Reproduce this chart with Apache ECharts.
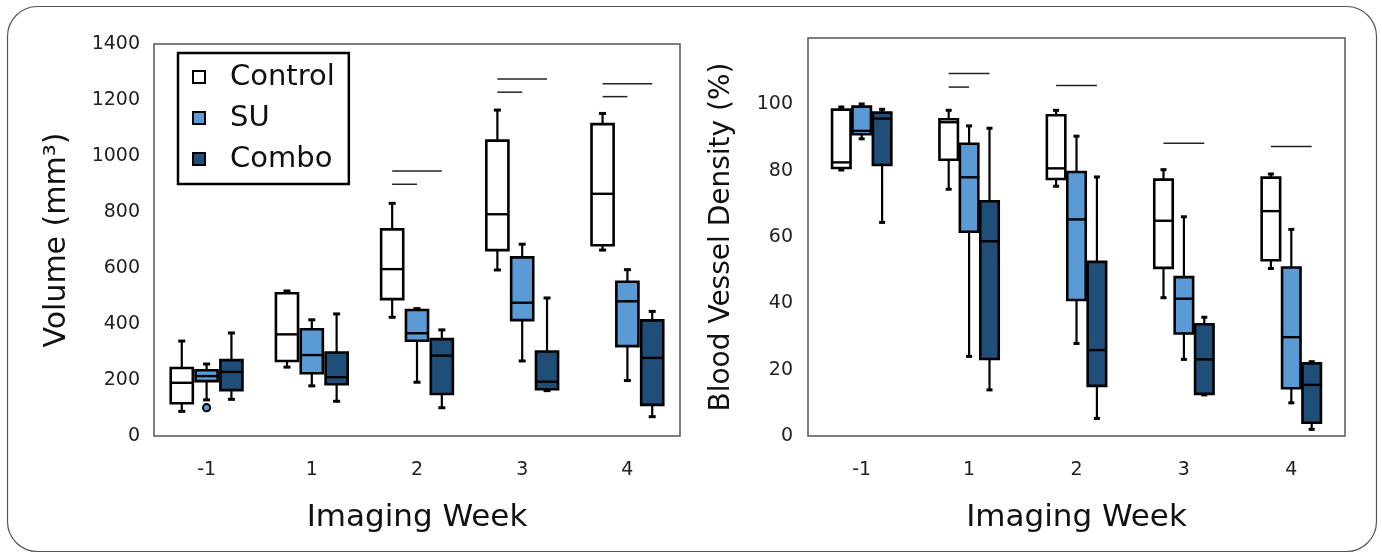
<!DOCTYPE html>
<html><head><meta charset="utf-8">
<script src="https://cdn.jsdelivr.net/npm/echarts@6/dist/echarts.min.js"></script>
<style>html,body{margin:0;padding:0;background:#fff}#c{width:1382px;height:555px}</style>
</head><body><div id="c"></div>
<script>
// ---- categories ----
const weeks = ['-1', '1', '2', '3', '4'];
const groupNames = ['Control', 'SU', 'Combo'];

// ---- Volume (mm³): [min, Q1, median, Q3, max] per week ----
const volControl = [[88,117,190,243,339],[246,268,363,510,518],[424,489,596,738,831],[593,664,792,1055,1164],[664,681,865,1114,1152]];
const volSU      = [[129,196,214,235,257],[179,224,289,381,415],[192,340,367,450,455],[268,414,476,638,685],[198,321,481,551,594]];
const volCombo   = [[131,164,229,271,368],[124,185,210,298,436],[101,150,287,346,379],[162,167,194,302,493],[69,111,279,413,445]];
// outliers: [weekIndex, value]
const volSUOutliers = [[0, 101]];
// significance bars: [weekIndex, fromGroup, toGroup, value]
const volSig = [[2,0,2,946],[2,0,1,899],[3,0,2,1275],[3,0,1,1228],[4,0,2,1258],[4,0,1,1212]];

// ---- Blood Vessel Density (%): [min, Q1, median, Q3, max] per week ----
const bvdControl = [[80.2,80.8,82.5,98.4,99.2],[74.4,83.3,94.6,95.5,98.2],[75.3,77.5,80.7,96.7,98.2],[41.7,50.7,64.9,77.3,80.3],[50.5,53.0,67.8,77.9,79.0]];
const bvdSU      = [[89.6,91.0,92.0,99.3,100.1],[24.0,61.6,78.0,88.1,93.5],[27.9,41.0,65.3,79.6,90.4],[23.1,30.9,41.4,47.9,66.1],[10.0,14.4,29.8,50.8,62.3]];
const bvdCombo   = [[64.4,81.7,95.7,97.5,98.5],[13.9,23.2,58.7,70.8,92.8],[5.3,15.1,25.9,52.5,78.1],[12.4,12.7,23.1,33.7,35.8],[2.0,4.0,15.4,21.9,22.4]];
const bvdSig = [[1,0,2,109.3],[1,0,1,105.2],[2,0,2,105.7],[3,0,2,88.3],[4,0,2,87.3]];

// ---- axis ticks ----
const volTicks = {min: 0, max: 1400, interval: 200};
const bvdTicks = {min: 0, max: 120, interval: 20, lastLabel: 100};

// ---- styles ----
const colors = ['#ffffff', '#5b9bd5', '#1f4e79'];
const FONT = 'DejaVu Sans';
const layoutL = {off: 0.236, w: 0.21, cap: 7};
const layoutR = {off: 0.19, w: 0.172, cap: 6};

function boxRender(slot, lay, fill) {
  return function (params, api) {
    const i = api.value(0);
    const band = api.size([1, 0])[0];
    const cx = api.coord([i, 0])[0] + (slot - 1) * band * lay.off;
    const w = band * lay.w;
    const y = k => api.coord([i, api.value(k)])[1];
    const yMin = y(1), yQ1 = y(2), yMed = y(3), yQ3 = y(4), yMax = y(5);
    const c = lay.cap / 2;
    return {type: 'group', children: [
      {type: 'line', shape: {x1: cx, y1: yMax, x2: cx, y2: yQ3}, style: {stroke: '#000', lineWidth: 2.2}},
      {type: 'line', shape: {x1: cx, y1: yQ1, x2: cx, y2: yMin}, style: {stroke: '#000', lineWidth: 2.2}},
      {type: 'line', shape: {x1: cx - c, y1: yMax, x2: cx + c, y2: yMax}, style: {stroke: '#000', lineWidth: 3}},
      {type: 'line', shape: {x1: cx - c, y1: yMin, x2: cx + c, y2: yMin}, style: {stroke: '#000', lineWidth: 3}},
      {type: 'rect', shape: {x: cx - w / 2, y: yQ3, width: w, height: yQ1 - yQ3}, style: {fill: fill, stroke: '#000', lineWidth: 2.6}},
      {type: 'line', shape: {x1: cx - w / 2, y1: yMed, x2: cx + w / 2, y2: yMed}, style: {stroke: '#000', lineWidth: 2.4}}
    ]};
  };
}
function outlierRender(slot, lay, fill) {
  return function (params, api) {
    const i = api.value(0);
    const band = api.size([1, 0])[0];
    const p = api.coord([i, api.value(1)]);
    return {type: 'circle', shape: {cx: p[0] + (slot - 1) * band * lay.off, cy: p[1], r: 3.6},
      style: {fill: fill, stroke: '#000', lineWidth: 2}};
  };
}
function sigRender(lay) {
  return function (params, api) {
    const i = api.value(0);
    const band = api.size([1, 0])[0];
    const p = api.coord([i, api.value(3)]);
    const x1 = p[0] + (api.value(1) - 1) * band * lay.off;
    const x2 = p[0] + (api.value(2) - 1) * band * lay.off;
    return {type: 'line', shape: {x1: x1, y1: p[1], x2: x2, y2: p[1]}, style: {stroke: '#222', lineWidth: 1.5}};
  };
}

const toData = arr => arr.map((v, i) => [i].concat(v));

function boxSeries(name, slot, arr, gi, lay) {
  return {
    type: 'custom', name: name, xAxisIndex: gi, yAxisIndex: gi,
    data: toData(arr), encode: {x: 0, y: [1, 2, 3, 4, 5]},
    itemStyle: {color: colors[slot], borderColor: '#000', borderWidth: 2},
    renderItem: boxRender(slot, lay, colors[slot]), z: 3
  };
}

const series = [
  boxSeries('Control', 0, volControl, 0, layoutL),
  boxSeries('SU', 1, volSU, 0, layoutL),
  boxSeries('Combo', 2, volCombo, 0, layoutL),
  {type: 'custom', name: 'SU outliers', xAxisIndex: 0, yAxisIndex: 0, data: volSUOutliers,
   encode: {x: 0, y: 1}, renderItem: outlierRender(1, layoutL, colors[1]), z: 4},
  {type: 'custom', name: 'sigL', xAxisIndex: 0, yAxisIndex: 0, data: volSig,
   encode: {x: 0, y: 3}, renderItem: sigRender(layoutL), z: 2},
  boxSeries('Control', 0, bvdControl, 1, layoutR),
  boxSeries('SU', 1, bvdSU, 1, layoutR),
  boxSeries('Combo', 2, bvdCombo, 1, layoutR),
  {type: 'custom', name: 'sigR', xAxisIndex: 1, yAxisIndex: 1, data: bvdSig,
   encode: {x: 0, y: 3}, renderItem: sigRender(layoutR), z: 2}
];

const xAxisBase = {
  type: 'category', data: weeks, name: 'Imaging Week', nameLocation: 'middle', nameGap: 66,
  nameTextStyle: {fontFamily: FONT, fontSize: 31, color: '#111'},
  axisLine: {show: false}, axisTick: {show: false}, splitLine: {show: false},
  axisLabel: {fontFamily: FONT, fontSize: 19, color: '#222', margin: 25}
};

const chart = echarts.init(document.getElementById('c'), null, {renderer: 'canvas'});
chart.setOption({
  animation: false,
  backgroundColor: '#fff',
  graphic: [{type: 'rect', shape: {x: 7.5, y: 6.5, width: 1369, height: 545, r: 30},
    style: {fill: 'none', stroke: '#555', lineWidth: 1.2}, silent: true, z: -1}],
  grid: [
    {left: 154, right: 702, top: 44, bottom: 119, show: true, borderColor: '#555', borderWidth: 1.5},
    {left: 808, right: 37, top: 38, bottom: 119, show: true, borderColor: '#555', borderWidth: 1.5}
  ],
  legend: {
    data: groupNames, orient: 'vertical', left: 178, top: 53,
    icon: 'rect', itemWidth: 12, itemHeight: 12, itemGap: 11,
    padding: [9, 14, 10, 14], borderColor: '#000', borderWidth: 2.5,
    selectedMode: false,
    itemStyle: {borderColor: '#000', borderWidth: 2},
    textStyle: {fontFamily: FONT, fontSize: 29, color: '#111', lineHeight: 30, padding: [0, 0, 0, 20]}
  },
  xAxis: [Object.assign({gridIndex: 0}, xAxisBase), Object.assign({gridIndex: 1}, xAxisBase)],
  yAxis: [
    {gridIndex: 0, type: 'value', min: volTicks.min, max: volTicks.max, interval: volTicks.interval,
     name: 'Volume (mm³)', nameLocation: 'middle', nameGap: 82,
     nameTextStyle: {fontFamily: FONT, fontSize: 30, color: '#111'},
     axisLine: {show: false}, axisTick: {show: false}, splitLine: {show: false},
     axisLabel: {fontFamily: FONT, fontSize: 19, color: '#222', margin: 14, formatter: v => String(v)}},
    {gridIndex: 1, type: 'value', min: bvdTicks.min, max: bvdTicks.max, interval: bvdTicks.interval,
     name: 'Blood Vessel Density (%)', nameLocation: 'middle', nameGap: 72,
     nameTextStyle: {fontFamily: FONT, fontSize: 28, color: '#111'},
     axisLine: {show: false}, axisTick: {show: false}, splitLine: {show: false},
     axisLabel: {fontFamily: FONT, fontSize: 19, color: '#222', margin: 15,
       formatter: v => (v > bvdTicks.lastLabel ? '' : String(v))}}
  ],
  series: series
});
</script>
</body></html>
